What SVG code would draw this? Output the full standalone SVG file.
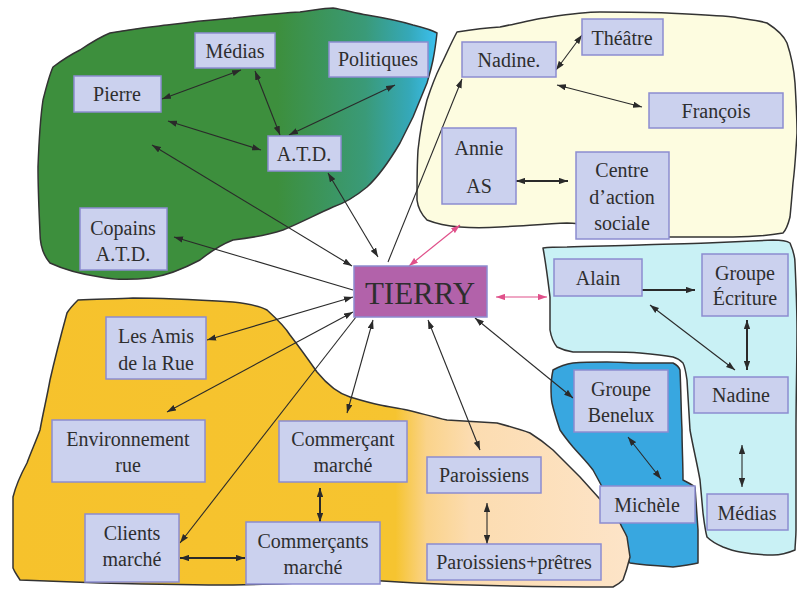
<svg xmlns="http://www.w3.org/2000/svg" width="797" height="592" viewBox="0 0 797 592">
<defs>
<linearGradient id="gGreen" gradientUnits="userSpaceOnUse" x1="38" y1="0" x2="437" y2="0">
<stop offset="0" stop-color="#3d8f3d"/><stop offset="0.6" stop-color="#3d8f3d"/><stop offset="0.82" stop-color="#3a9a78"/><stop offset="0.93" stop-color="#35a8b8"/><stop offset="1" stop-color="#3cc0f0"/>
</linearGradient>
<linearGradient id="gOrange" gradientUnits="userSpaceOnUse" x1="13" y1="0" x2="630" y2="0">
<stop offset="0" stop-color="#f6c22c"/><stop offset="0.62" stop-color="#f6c430"/><stop offset="0.67" stop-color="#fad38a"/><stop offset="0.74" stop-color="#fcdcb0"/><stop offset="1" stop-color="#fde4c8"/>
</linearGradient>
<marker id="ah" viewBox="0 0 10 7" refX="10" refY="3.5" markerWidth="9" markerHeight="6.5" markerUnits="userSpaceOnUse" orient="auto-start-reverse"><path d="M0,0 L10,3.5 L0,7 z" fill="#2a2a2a"/></marker>
<marker id="ahp" viewBox="0 0 10 7" refX="10" refY="3.5" markerWidth="9" markerHeight="6.5" markerUnits="userSpaceOnUse" orient="auto-start-reverse"><path d="M0,0 L10,3.5 L0,7 z" fill="#e0508a"/></marker>
</defs>
<style>
.blob{stroke:#333;stroke-width:1.5;stroke-linejoin:round}
.box rect{fill:#cbd1ee;stroke:#8c8cd0;stroke-width:1.5}
.box text,.lbl{font-family:"Liberation Serif","Times New Roman",serif;font-size:20px;fill:#2e2e2e;text-anchor:middle}
.c line{stroke:#2a2a2a;stroke-width:1.1;fill:none}
.c line.t{stroke-width:2}
.c line.p{stroke:#e0508a;stroke-width:1.2}
.b2{marker-start:url(#ah);marker-end:url(#ah)}
.e1{marker-end:url(#ah)}
.pp{marker-start:url(#ahp);marker-end:url(#ahp)}
</style>
<rect width="797" height="592" fill="#fff"/>
<g id="blobs">
<path class="blob" fill="url(#gGreen)" d="M53,67 C65,58 72,54 80,50 C92,42 100,37 110,33 C130,29 150,27 167,25 C190,22 210,20 233,18 C260,15 280,13 300,12 C315,10 325,8 333,8 C345,10 355,13 367,15 C385,18 400,21 413,25 C425,28 432,30 437,33 C436,42 435,50 433,60 C431,70 429,76 427,83 C422,95 418,105 413,117 C408,127 404,135 400,143 C390,160 380,175 367,187 C355,197 345,203 333,207 C315,215 300,223 283,230 C265,236 250,238 233,240 C220,245 210,252 200,260 C185,268 170,275 150,278 C130,280 110,279 100,277 C80,274 65,270 50,263 C43,255 40,245 40,233 C39,210 38,190 38,167 C39,140 40,120 43,100 C46,88 49,76 53,67 Z"/>
<path class="blob" fill="#fdfce0" d="M457,32 C470,30 485,28 500,27 C515,24 535,19 550,17 C570,14 585,12 600,12 C625,12 645,12 667,13 C690,14 715,15 733,17 C745,19 758,20 767,23 C778,30 784,36 787,43 C791,55 794,70 795,83 C796,100 797,118 797,133 C796,150 795,168 793,183 C792,195 791,207 790,217 C788,225 786,230 783,233 C765,236 750,237 733,237 C710,237 690,237 667,237 C645,234 620,230 600,227 C588,225 578,223 567,223 C545,224 520,226 500,227 C485,228 472,228 460,227 C448,226 437,224 427,220 C421,214 418,208 417,200 C417,183 417,166 418,150 C420,132 423,115 427,100 C431,88 435,77 440,67 C446,55 451,43 457,32 Z"/>
<path class="blob" fill="#c9f1f5" d="M543,248 C550,247 558,247 567,247 C590,246 615,246 640,245 C662,244 685,244 707,243 C730,242 752,241 773,240 C782,240 787,241 790,243 C793,250 795,256 795,263 C796,285 797,308 797,330 C797,363 796,397 796,430 C796,463 796,497 796,530 C796,538 795,545 795,550 C788,553 780,555 773,555 C762,555 750,554 740,552 C733,551 728,549 723,547 C716,544 711,541 707,537 C705,530 704,521 703,513 C702,502 701,491 700,480 C697,463 693,447 690,430 C689,413 688,397 687,380 C686,373 685,367 683,363 C680,360 677,358 673,357 C662,355 651,354 640,353 C629,352 618,352 607,352 C596,352 585,352 573,352 C566,351 561,349 557,347 C553,342 551,336 550,330 C550,319 550,308 550,297 C548,281 546,264 543,248 Z"/>
<path class="blob" fill="#38a7e0" d="M553,370 C560,366 566,364 573,363 C584,362 596,362 607,362 C618,362 629,363 640,363 C651,363 662,363 673,363 C677,365 679,367 680,370 C681,390 681,410 682,430 C682,447 683,463 683,480 C687,482 691,484 695,487 C696,501 697,516 698,530 C698,541 698,552 698,563 C690,565 682,566 673,567 C659,566 644,565 630,563 C625,558 622,553 620,547 C619,539 618,531 617,523 C614,514 611,506 607,497 C603,488 598,479 593,470 C587,462 580,455 573,447 C568,441 564,436 560,430 C557,421 554,412 552,403 C551,398 551,392 551,387 C551,381 552,375 553,370 Z"/>
<path class="blob" fill="url(#gOrange)" d="M78,300 C100,299 120,299 133,298 C160,298 200,300 233,302 C250,304 262,307 267,310 C278,320 287,330 290,335 C300,348 310,362 317,372 C326,383 337,393 350,397 C360,400 370,403 380,405 C389,407 398,408 407,410 C420,413 433,417 447,420 C463,421 480,422 497,423 C508,426 519,429 530,433 C538,438 546,444 553,450 C562,459 571,468 580,477 C589,487 598,497 607,507 C611,512 616,517 620,523 C622,528 625,532 627,537 C628,544 629,550 630,557 C628,565 626,572 623,580 C620,583 617,585 613,587 C550,587 450,586 367,580 C320,582 280,584 233,585 C190,585 145,584 100,583 C75,582 45,581 20,580 C17,575 15,573 13,568 C13,545 13,520 13,497 C16,485 21,474 27,463 C31,452 36,441 40,430 C43,413 47,397 50,380 C55,358 61,335 67,313 C70,308 74,304 78,300 Z"/>
</g>
<g class="c" id="connectors">
<line class="b2" x1="162" y1="99" x2="241" y2="70"/>
<line class="b2" x1="255" y1="71" x2="280" y2="135"/>
<line class="b2" x1="395" y1="85" x2="289" y2="135"/>
<line class="b2" x1="168" y1="121" x2="261" y2="150"/>
<line class="b2" x1="152" y1="145" x2="352" y2="266"/>
<line class="b2" x1="328" y1="173" x2="378" y2="257"/>
<line class="e1" x1="353" y1="290" x2="174" y2="237"/>
<line class="e1" x1="388" y1="262" x2="462" y2="79"/>
<line class="p pp" x1="409" y1="266" x2="460" y2="225"/>
<line class="b2" x1="556" y1="70" x2="582" y2="35"/>
<line class="b2" x1="557" y1="85" x2="642" y2="107"/>
<line class="t b2" x1="516" y1="181" x2="568" y2="181"/>
<line class="p pp" x1="496" y1="297" x2="547" y2="297"/>
<line class="t e1" x1="642" y1="290" x2="695" y2="290"/>
<line class="b2" x1="650" y1="305" x2="735" y2="370"/>
<line class="t b2" x1="747" y1="320" x2="747" y2="370"/>
<line class="b2" x1="742" y1="445" x2="742" y2="487"/>
<line class="b2" x1="475" y1="318" x2="573" y2="398"/>
<line class="b2" x1="628" y1="437" x2="661" y2="479"/>
<line class="b2" x1="428" y1="320" x2="480" y2="450"/>
<line class="b2" x1="373" y1="320" x2="347" y2="413"/>
<line class="b2" x1="353" y1="297" x2="207" y2="340"/>
<line class="b2" x1="353" y1="312" x2="167" y2="412"/>
<line class="e1" x1="356" y1="317" x2="180" y2="543"/>
<line class="t b2" x1="180" y1="558" x2="245" y2="558"/>
<line class="t b2" x1="320" y1="488" x2="320" y2="522"/>
<line class="b2" x1="487" y1="503" x2="487" y2="544"/>
</g>
<g id="tierry"><rect x="354" y="266" width="133" height="51" fill="#b262aa" stroke="#8c8cd0" stroke-width="1.5"/><text class="lbl" x="420" y="304" style="font-size:31px">TIERRY</text></g>
<g class="box" id="medias1"><rect x="195" y="33" width="80" height="35"/><text x="235" y="58">Médias</text></g>
<g class="box" id="pierre"><rect x="74" y="76" width="87" height="36"/><text x="117" y="101">Pierre</text></g>
<g class="box" id="politiques"><rect x="329" y="42" width="99" height="35"/><text x="378" y="66">Politiques</text></g>
<g class="box" id="atd"><rect x="268" y="136" width="73" height="35"/><text x="304" y="161">A.T.D.</text></g>
<g class="box" id="copains"><rect x="80" y="208" width="87" height="62"/><text x="123" y="235">Copains</text><text x="123" y="261">A.T.D.</text></g>
<g class="box" id="nadine1"><rect x="462" y="42" width="94" height="35"/><text x="509" y="67">Nadine.</text></g>
<g class="box" id="theatre"><rect x="582" y="19" width="81" height="36"/><text x="622" y="45">Théâtre</text></g>
<g class="box" id="francois"><rect x="649" y="93" width="134" height="35"/><text x="716" y="118">François</text></g>
<g class="box" id="annie"><rect x="442" y="128" width="74" height="76"/><text x="479" y="155">Annie</text><text x="479" y="193">AS</text></g>
<g class="box" id="centre"><rect x="576" y="152" width="93" height="87"/><text x="622" y="177">Centre</text><text x="622" y="204">d’action</text><text x="622" y="230">sociale</text></g>
<g class="box" id="alain"><rect x="554" y="259" width="88" height="37"/><text x="598" y="285">Alain</text></g>
<g class="box" id="ecriture"><rect x="702" y="254" width="86" height="62"/><text x="745" y="280">Groupe</text><text x="745" y="305">Écriture</text></g>
<g class="box" id="nadine2"><rect x="694" y="377" width="94" height="36"/><text x="741" y="402">Nadine</text></g>
<g class="box" id="medias2"><rect x="707" y="494" width="81" height="36"/><text x="747" y="520">Médias</text></g>
<g class="box" id="benelux"><rect x="574" y="370" width="94" height="62"/><text x="621" y="396">Groupe</text><text x="621" y="422">Benelux</text></g>
<g class="box" id="michele"><rect x="600" y="486" width="95" height="37"/><text x="647" y="512">Michèle</text></g>
<g class="box" id="amis"><rect x="106" y="317" width="100" height="62"/><text x="156" y="343">Les Amis</text><text x="156" y="370">de la Rue</text></g>
<g class="box" id="environnement"><rect x="52" y="420" width="153" height="62"/><text x="128" y="446">Environnement</text><text x="128" y="472">rue</text></g>
<g class="box" id="commercant"><rect x="279" y="421" width="128" height="61"/><text x="343" y="446">Commerçant</text><text x="343" y="472">marché</text></g>
<g class="box" id="clients"><rect x="85" y="514" width="94" height="68"/><text x="132" y="540">Clients</text><text x="132" y="566">marché</text></g>
<g class="box" id="commercants"><rect x="246" y="522" width="134" height="62"/><text x="313" y="548">Commerçants</text><text x="313" y="574">marché</text></g>
<g class="box" id="paroissiens"><rect x="427" y="457" width="114" height="36"/><text x="484" y="482">Paroissiens</text></g>
<g class="box" id="pretres"><rect x="427" y="544" width="174" height="36"/><text x="514" y="569">Paroissiens+prêtres</text></g>
</svg>
